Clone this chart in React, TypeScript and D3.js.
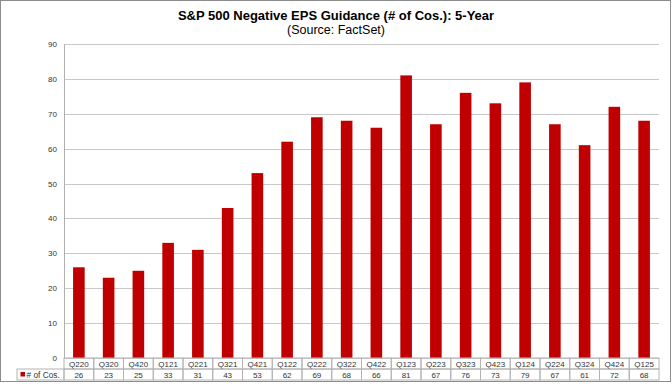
import React, { useEffect, useRef } from "react";
import * as d3 from "d3";

const quarters = ["Q220", "Q320", "Q420", "Q121", "Q221", "Q321", "Q421", "Q122", "Q222", "Q322", "Q422", "Q123", "Q223", "Q323", "Q423", "Q124", "Q224", "Q324", "Q424", "Q125"];
const negativeCount = [26, 23, 25, 33, 31, 43, 53, 62, 69, 68, 66, 81, 67, 76, 73, 79, 67, 61, 72, 68];
const yTicks = [0, 10, 20, 30, 40, 50, 60, 70, 80, 90];
const seriesName = "# of Cos.";

export default function App() {
  const ref = useRef<SVGSVGElement>(null);

  useEffect(() => {
    const W = 672, H = 384;
    const margin = { top: 44, right: 13, bottom: 26, left: 64 };
    const w = W - margin.left - margin.right;
    const h = H - margin.top - margin.bottom;
    const font = "'Liberation Sans', Arial, sans-serif";

    const svg = d3.select(ref.current);
    svg.selectAll("*").remove();

    // outer frame
    svg.append("rect")
      .attr("x", 0.5).attr("y", 0.5)
      .attr("width", W - 2).attr("height", H - 3)
      .attr("fill", "#fff")
      .attr("stroke", "#8c8c8c");

    // title
    svg.append("text")
      .attr("x", W / 2).attr("y", 20)
      .attr("text-anchor", "middle")
      .style("font-family", font).style("font-size", "13px").style("font-weight", "bold")
      .attr("fill", "#000")
      .text("S&P 500 Negative EPS Guidance (# of Cos.): 5-Year");
    svg.append("text")
      .attr("x", W / 2).attr("y", 34)
      .attr("text-anchor", "middle")
      .style("font-family", font).style("font-size", "12.5px")
      .attr("fill", "#000")
      .text("(Source: FactSet)");

    const g = svg.append("g").attr("transform", `translate(${margin.left},${margin.top})`);

    const x = d3.scaleBand().domain(quarters).range([0, w]).paddingInner(0.61).paddingOuter(0.305);
    const y = d3.scaleLinear().domain([0, 90]).range([h, 0]);

    // gridlines
    g.selectAll(".grid")
      .data(yTicks)
      .join("line")
      .attr("class", "grid")
      .attr("x1", 0).attr("x2", w)
      .attr("y1", (d) => Math.round(y(d)) + 0.5).attr("y2", (d) => Math.round(y(d)) + 0.5)
      .attr("stroke", "#c8c8c8");

    // y-axis line
    g.append("line")
      .attr("x1", 0.5).attr("x2", 0.5)
      .attr("y1", 0).attr("y2", h)
      .attr("stroke", "#b0b0b0");

    // y tick labels
    g.selectAll(".ytick")
      .data(yTicks)
      .join("text")
      .attr("class", "ytick")
      .attr("x", -7).attr("y", (d) => y(d) + 3)
      .attr("text-anchor", "end")
      .style("font-family", font).style("font-size", "8px")
      .attr("fill", "#333")
      .text((d) => d);

    // bars
    g.selectAll(".bar")
      .data(negativeCount)
      .join("rect")
      .attr("class", "bar")
      .attr("x", (d, i) => x(quarters[i]) as number)
      .attr("y", (d) => y(d))
      .attr("width", x.bandwidth())
      .attr("height", (d) => h - y(d))
      .attr("fill", "#c00000");

    // data table below
    const step = x.step();
    const rowH = 11;
    const t = g.append("g").attr("transform", `translate(0,${h})`);
    const tableStroke = "#b4b4b4";

    // category row
    t.selectAll(".catcell")
      .data(quarters)
      .join("rect")
      .attr("class", "catcell")
      .attr("x", (d, i) => i * step).attr("y", 0)
      .attr("width", step).attr("height", rowH)
      .attr("fill", "none").attr("stroke", tableStroke);
    t.selectAll(".cattext")
      .data(quarters)
      .join("text")
      .attr("class", "cattext")
      .attr("x", (d, i) => i * step + step / 2).attr("y", rowH - 2.5)
      .attr("text-anchor", "middle")
      .style("font-family", font).style("font-size", "8px")
      .attr("fill", "#333")
      .text((d) => d);

    // values row
    t.selectAll(".valcell")
      .data(negativeCount)
      .join("rect")
      .attr("class", "valcell")
      .attr("x", (d, i) => i * step).attr("y", rowH)
      .attr("width", step).attr("height", rowH)
      .attr("fill", "none").attr("stroke", tableStroke);
    t.selectAll(".valtext")
      .data(negativeCount)
      .join("text")
      .attr("class", "valtext")
      .attr("x", (d, i) => i * step + step / 2).attr("y", 2 * rowH - 2.5)
      .attr("text-anchor", "middle")
      .style("font-family", font).style("font-size", "8px")
      .attr("fill", "#333")
      .text((d) => d);

    // legend cell
    t.append("rect")
      .attr("x", -47).attr("y", rowH)
      .attr("width", 47).attr("height", rowH)
      .attr("fill", "none").attr("stroke", tableStroke);
    t.append("rect")
      .attr("x", -43.5).attr("y", rowH + 3)
      .attr("width", 4.5).attr("height", 4.5)
      .attr("fill", "#c00000");
    t.append("text")
      .attr("x", -37.5).attr("y", 2 * rowH - 2.5)
      .style("font-family", font).style("font-size", "8.3px")
      .attr("fill", "#333")
      .text(seriesName);
  }, []);

  return (
    <svg ref={ref} width={672} height={384} style={{ position: "absolute", left: 0, top: 0 }}></svg>
  );
}
